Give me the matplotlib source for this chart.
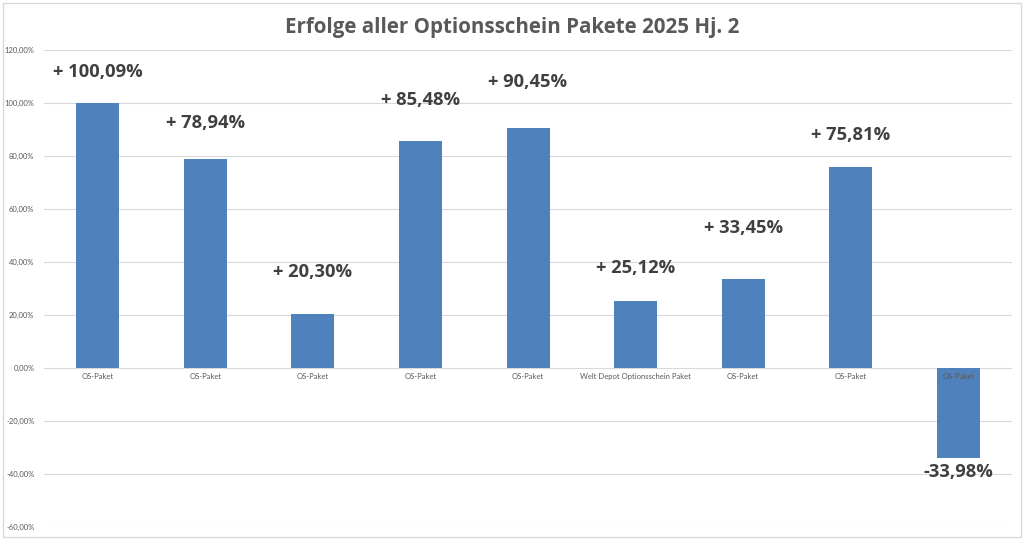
import numpy as np
import matplotlib.pyplot as plt
from matplotlib.patches import Rectangle

title = "Erfolge aller Optionsschein Pakete 2025 Hj. 2"
categories = ["OS-Paket", "OS-Paket", "OS-Paket", "OS-Paket", "OS-Paket",
              "Welt Depot Optionsschein Paket", "OS-Paket", "OS-Paket", "OS-Paket"]
values = [100.09, 78.94, 20.30, 85.48, 90.45, 25.12, 33.45, 75.81, -33.98]
yticks = [-60, -40, -20, 0, 20, 40, 60, 80, 100, 120]

# label baseline distance from bar end, in pixels (labels were placed by hand)
label_offsets_px = [26, 31, 37, 36.6, 41.4, 28.5, 46.4, 27, -19]

bar_color = "#4F81BD"
grid_color = "#D9D9D9"
text_gray = "#595959"
label_gray = "#404040"
small_font = ["Lato", "DejaVu Sans"]
big_font = ["Open Sans", "DejaVu Sans"]

fig = plt.figure(figsize=(10.24, 5.4), dpi=100)
ax = fig.add_axes([0.043, 0.0246, 0.9453, 0.8828])

x = np.arange(len(values))
ax.bar(x, values, width=0.4, color=bar_color, zorder=2)

ax.set_xlim(-0.5, len(values) - 0.5)
ax.set_ylim(-60, 120)
ax.set_yticks(yticks)
ax.set_yticklabels([f"{t:.2f}%".replace(".", ",") for t in yticks],
                   fontsize=5.5, color=text_gray, family=small_font)
ax.tick_params(axis="y", length=0, pad=7)
ax.set_xticks([])
ax.grid(axis="y", color=grid_color, linewidth=0.8, zorder=0)
for s in ax.spines.values():
    s.set_visible(False)

# category labels just below the zero line
for xi, cat in zip(x, categories):
    ax.annotate(cat, (xi, 0), xytext=(0, -4), textcoords="offset points",
                ha="center", va="top", fontsize=5.5, color=text_gray,
                family=small_font, zorder=3)

# data labels
for xi, v, off in zip(x, values, label_offsets_px):
    txt = f"{v:.2f}%".replace(".", ",")
    if v >= 0:
        txt = "+ " + txt
    ax.annotate(txt, (xi, v), xytext=(0, off * 0.72), textcoords="offset points",
                ha="center", va="baseline", fontsize=13.2, fontweight="bold",
                color=label_gray, family=big_font, zorder=4)

fig.text(0.5, 1 - 27 / 540, title, ha="center", va="center", fontsize=14.8,
         fontweight="bold", color=text_gray, family=big_font)

fig.patches.append(Rectangle((3 / 1024, 3 / 540), 1018 / 1024, 534 / 540,
                             transform=fig.transFigure, fill=False,
                             edgecolor=grid_color, linewidth=1))

fig.savefig("out.png", dpi=100)
